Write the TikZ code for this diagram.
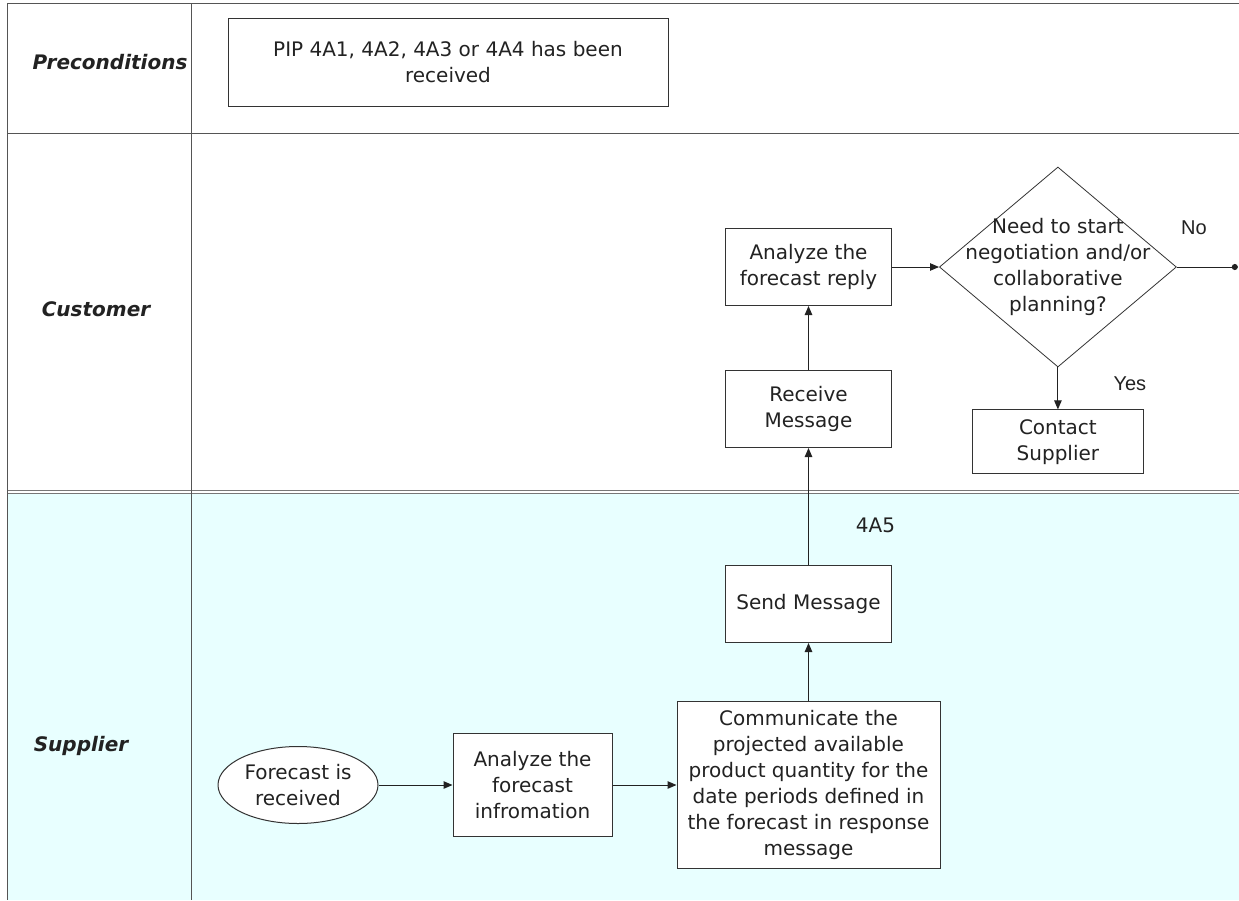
\documentclass[tikz,border=0pt]{standalone}
\usepackage{fontspec}
\setmainfont{DejaVu Sans}
\newfontfamily\yesnofont{Liberation Sans}
\usepackage{xcolor}
\usepackage{tikz}
\usetikzlibrary{shapes.geometric, arrows.meta, positioning}

\definecolor{lanegray}{RGB}{85,85,85}
\definecolor{boxgray}{RGB}{51,51,51}
\definecolor{inkgray}{RGB}{34,34,34}
\definecolor{supplierfill}{RGB}{232,255,255}

\newcommand{\boxfont}{\fontsize{20}{26}\selectfont}
\newcommand{\lanefont}{\fontsize{20}{24}\selectfont\bfseries\itshape}

\begin{document}
\begin{tikzpicture}[
    x=1pt, y=-1pt,
    block/.style={rectangle, draw=boxgray, fill=white, line width=1pt, inner sep=2pt, align=center, text=inkgray, font=\boxfont},
    terminal/.style={ellipse, draw=boxgray, fill=white, line width=1pt, inner sep=0pt, align=center, text=inkgray, font=\boxfont},
    decision/.style={diamond, draw=boxgray, fill=white, line width=0.8pt, inner sep=0pt},
    lanelabel/.style={text=inkgray, font=\lanefont},
    lane/.style={draw=lanegray, line width=1pt},
    flowlabel/.style={text=inkgray, font=\boxfont},
    answer/.style={text=inkgray, font=\yesnofont\fontsize{20}{24}\selectfont},
    arrow/.style={-{Triangle[length=9pt, width=7.5pt]}, line width=1pt, draw=inkgray}
]

% Canvas and swimlanes
\useasboundingbox (0,0) rectangle (1239,900);
\fill[white] (0,0) rectangle (1239,900);
\fill[supplierfill] (7,492) rectangle (1239,900);
\draw[lane] (7,3) -- (1239,3);
\draw[lane] (7,133) -- (1239,133);
\draw[lane, draw=lanegray!80, double=white, double distance=2pt] (7,492) -- (1239,492);
\draw[lane] (7,3) -- (7,900);
\draw[lane] (191,3) -- (191,900);

% Lane titles
\node[lanelabel] (precond_lbl) at (110,62) {Preconditions};
\node[lanelabel] (customer_lbl) at (96,309) {Customer};
\node[lanelabel] (supplier_lbl) at (81,746) {Supplier};

% Preconditions lane
\node[block, minimum width=440pt, minimum height=88pt] (precond) at (448,62) {PIP 4A1, 4A2, 4A3 or 4A4 has been\\received};

% Supplier lane
\node[terminal, minimum width=160pt, minimum height=77pt] (received) at (298,785) {Forecast is\\received};
\node[block, minimum width=159pt, minimum height=103pt, right=74pt of received] (analyze_info) {Analyze the\\forecast\\infromation};
\node[block, minimum width=263pt, minimum height=167pt, right=64pt of analyze_info] (communicate) {Communicate the\\projected available\\product quantity for the\\date periods defined in\\the forecast in response\\message};
\node[block, minimum width=166pt, minimum height=77pt, above=58pt of communicate] (send_msg) {Send Message};

% Customer lane
\node[block, minimum width=166pt, minimum height=77pt, above=117pt of send_msg] (receive_msg) {Receive\\Message};
\node[block, minimum width=166pt, minimum height=77pt, above=64pt of receive_msg] (analyze_reply) {Analyze the\\forecast reply};
\node[decision, minimum width=237pt, minimum height=200pt, right=47pt of analyze_reply,
      label={[align=center, text=inkgray, font=\boxfont]center:Need to start\\negotiation and/or\\collaborative\\planning?}] (need_nego) {};
\node[block, minimum width=171pt, minimum height=64pt, below=42pt of need_nego] (contact) {Contact\\Supplier};
\coordinate (no_end) at ([xshift=61pt]need_nego.east);

% Connectors
\draw[arrow] (received) -- (analyze_info);
\draw[arrow] (analyze_info) -- (communicate);
\draw[arrow] (communicate) -- (send_msg);
\draw[arrow] (send_msg) -- node[flowlabel, pos=0.34, xshift=67pt] {4A5} (receive_msg);
\draw[arrow] (receive_msg) -- (analyze_reply);
\draw[arrow] (analyze_reply) -- (need_nego);
\draw[arrow] (need_nego) -- node[answer, pos=0.38, xshift=72pt] {Yes} (contact);
\draw[-{Circle[length=6pt]}, line width=1pt, draw=inkgray] (need_nego) -- node[answer, pos=0.28, yshift=39pt] {No} (no_end);

\end{tikzpicture}
\end{document}
